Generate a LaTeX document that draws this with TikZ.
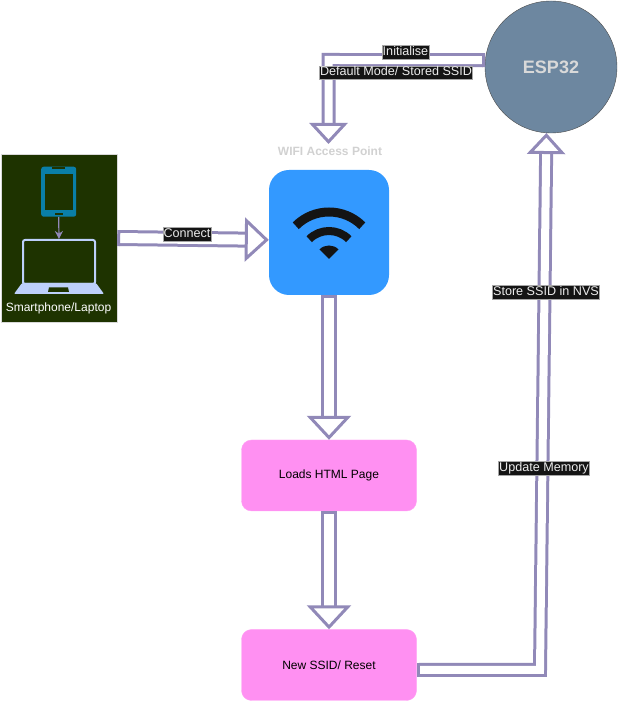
\documentclass[tikz,border=0pt]{standalone}
\usepackage{fontspec}
\setmainfont{Liberation Sans}
\usetikzlibrary{arrows.meta}
\definecolor{flowline}{HTML}{9189B8}
\definecolor{devicebg}{HTML}{1E3300}
\definecolor{phoneblue}{HTML}{0A7FA8}
\definecolor{laptopblue}{HTML}{BDD0FB}
\definecolor{apblue}{HTML}{3399FF}
\definecolor{stepink}{HTML}{FF90F2}
\definecolor{espslate}{HTML}{6D87A0}
\definecolor{tagblack}{HTML}{141414}
\begin{document}
\begin{tikzpicture}[x=1pt, y=1pt]
  \def\shaftgap{10pt}
  \tikzstyle{stepbox} = [rectangle, draw=stepink!85!white, fill=stepink, rounded corners=10pt, minimum width=175pt, minimum height=71pt, inner sep=0pt, font=\fontsize{12}{14}\selectfont]
  \tikzstyle{tag} = [draw=white!65!black, line width=0.4pt, fill=tagblack, text=white!92!black, inner sep=0.6pt, text height=9.5pt, text depth=2.8pt, font=\fontsize{12.6}{14}\selectfont]
  \tikzstyle{flow} = [draw=flowline, line width=3pt, double=white, double distance=\shaftgap, {Bar[width=16pt, line width=3pt]}-{Triangle[open, fill=white, length=24pt, width=44pt, line width=3pt]}]
  \tikzstyle{thinflow} = [draw=flowline, line width=3pt, double=white, double distance=8pt, {Bar[width=14pt, line width=3pt]}-{Triangle[open, fill=white, length=21pt, width=38pt, line width=3pt]}]
  \useasboundingbox (0,0) rectangle (618,702);

  \node[rectangle, fill=devicebg, draw=white!85!black, line width=0.4pt, minimum width=116pt, minimum height=168pt, inner sep=0pt] (device) at (59,464) {};
  \node[text=white, font=\fontsize{12}{14}\selectfont] (devicetext) at (58.5,393.5) {Smartphone/Laptop};

  \begin{scope}[shift={(59,464)}]
    \node[rectangle, fill=phoneblue, rounded corners=2.5pt, minimum width=35pt, minimum height=50pt, inner sep=0pt] (phone) at (-0.3,46.3) {};
    \node[rectangle, fill=devicebg, minimum width=28pt, minimum height=36.5pt, inner sep=0pt] (screen) at (-0.3,46.2) {};
    \node[rectangle, draw=laptopblue, line width=2pt, rounded corners=2pt, minimum width=72pt, minimum height=44pt, inner sep=0pt] (laptop) at (0,-24) {};
    \fill[laptopblue, rounded corners=1pt] (-37,-45) -- (37,-45) -- (45,-56) -- (-45,-56) -- cycle;
    \fill[devicebg] (-10,-49.5) -- (9,-49.5) -- (10,-54) -- (-11,-54) -- cycle;
    \fill[devicebg] (-7,70.6) rectangle (6,69.4);
    \fill[devicebg] (-4,25) rectangle (4,23.2);
  \end{scope}
  \draw[draw=flowline, line width=1.2pt, -{Stealth[length=8pt, width=8pt]}] (phone.south) -- (laptop.north);

  \node[rectangle, fill=apblue, rounded corners=20pt, minimum width=120pt, minimum height=125pt, inner sep=0pt] (ap) at (329,469.5) {};
  \coordinate (wave) at (329,443);
  \draw[tagblack, line width=9pt] ([shift={(135:47)}]wave) arc[start angle=135, end angle=45, radius=47];
  \draw[tagblack, line width=8pt] ([shift={(135:28)}]wave) arc[start angle=135, end angle=45, radius=28];
  \fill[tagblack] (wave) -- ([shift={(135:13.5)}]wave) arc[start angle=135, end angle=45, radius=13.5] -- cycle;
  \node[text=white!82!black, font=\bfseries\fontsize{12}{14}\selectfont] (aptext) at (330,550.5) {WIFI Access Point};

  \node[stepbox] (loads) at (329,226.5) {Loads HTML Page};
  \node[stepbox] (newssid) at (329,37) {New SSID/ Reset};
  \node[circle, draw=black!70, fill=espslate, minimum size=132pt, inner sep=0pt, text=white!85!black, font=\bfseries\fontsize{18}{20}\selectfont] (esp) at (551,635) {ESP32};

  \coordinate (initbend) at (328.5,642);
  \coordinate (apin) at (328.5,558);
  \coordinate (storebend) at (540,32);
  \draw[thinflow] (esp.174) -- (initbend) -- (apin);
  \draw[flow] (device.east) -- (ap.187);
  \draw[flow] (ap.south) -- (loads.north);
  \draw[flow] (loads.south) -- (newssid.north);
  \draw[thinflow] (newssid.east |- storebend) -- (storebend) -- (esp.266);

  \node[tag] (inittag) at (405.5,650) {Initialise};
  \node[tag] (modetag) at (396,629.5) {Default Mode/ Stored SSID};
  \node[tag] (connecttag) at (187,468) {Connect};
  \node[tag] (storetag) at (546,410) {Store SSID in NVS};
  \node[tag] (memorytag) at (544,234) {Update Memory};
\end{tikzpicture}
\end{document}
